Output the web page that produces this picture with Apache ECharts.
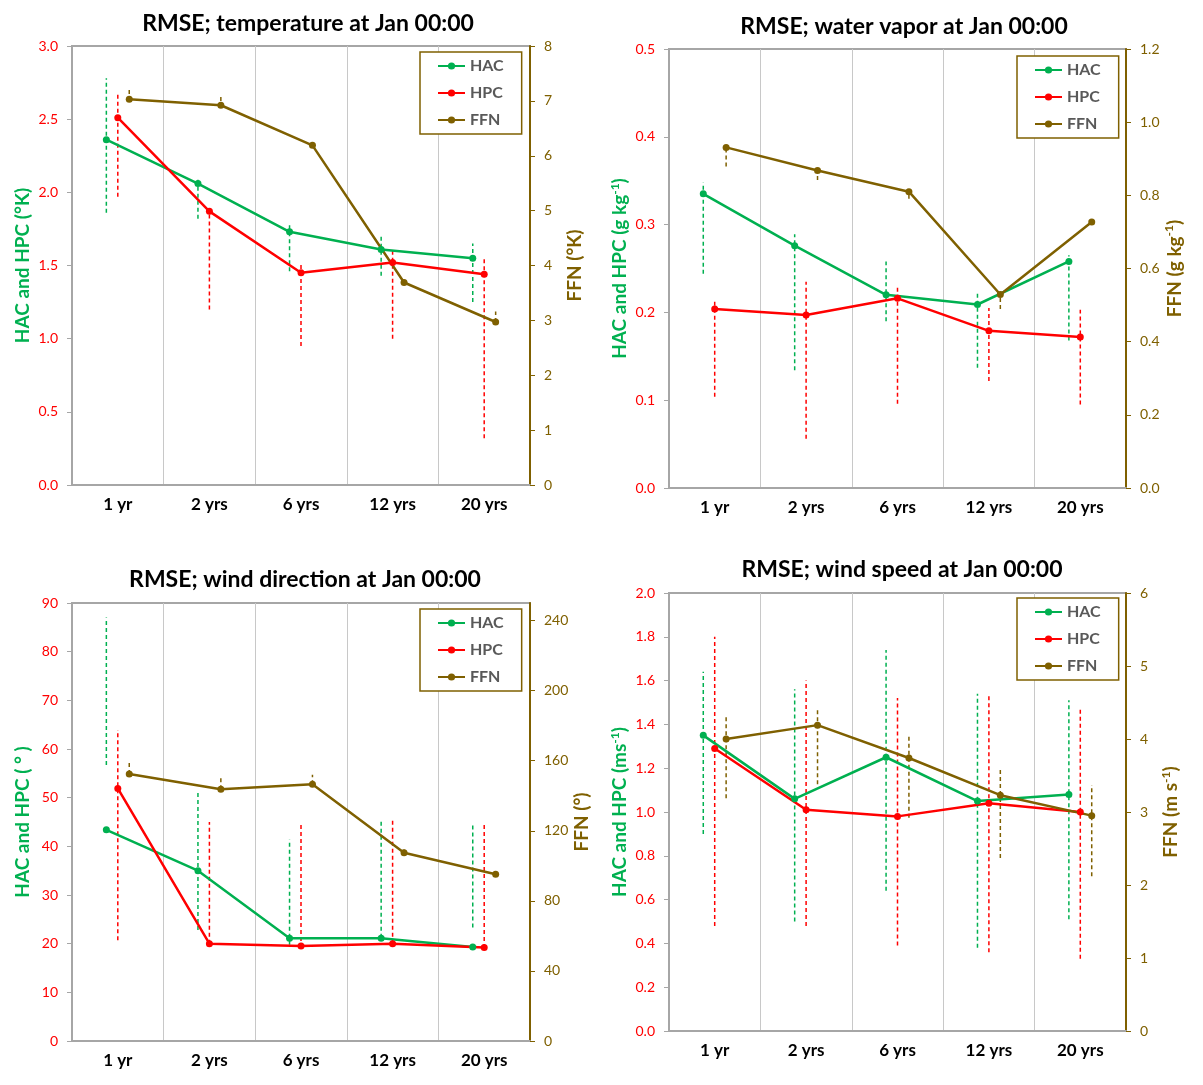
<!DOCTYPE html>
<html><head><meta charset="utf-8">
<script src="https://cdn.jsdelivr.net/npm/echarts@6/dist/echarts.min.js"></script>
<style>html,body{margin:0;padding:0;background:#fff}#c{width:1203px;height:1085px}</style>
</head><body><div id="c"></div>
<script>
// ---------- data ----------
const categories = ['1 yr', '2 yrs', '6 yrs', '12 yrs', '20 yrs'];

// temperature (°K)
const tempHAC    = [2.36, 2.06, 1.73, 1.61, 1.55];
const tempHACLo  = [1.86, 1.82, 1.46, 1.43, 1.25];
const tempHACHi  = [2.78, 2.10, 1.79, 1.71, 1.65];
const tempHPC    = [2.51, 1.87, 1.45, 1.52, 1.44];
const tempHPCLo  = [1.97, 1.20, 0.95, 1.00, 0.32];
const tempHPCHi  = [2.68, 1.88, 1.51, 1.62, 1.56];
const tempFFN    = [7.03, 6.92, 6.19, 3.69, 2.97];
const tempFFNLo  = [7.00, 6.87, 6.14, 3.64, 2.97];
const tempFFNHi  = [7.22, 7.08, 6.26, 3.75, 3.16];

// water vapor (g kg-1)
const vapHAC     = [0.335, 0.276, 0.220, 0.209, 0.258];
const vapHACLo   = [0.244, 0.134, 0.190, 0.137, 0.168];
const vapHACHi   = [0.348, 0.289, 0.258, 0.224, 0.265];
const vapHPC     = [0.204, 0.197, 0.216, 0.179, 0.172];
const vapHPCLo   = [0.104, 0.056, 0.096, 0.122, 0.095];
const vapHPCHi   = [0.214, 0.235, 0.230, 0.205, 0.203];
const vapFFN     = [0.931, 0.868, 0.810, 0.529, 0.727];
const vapFFNLo   = [0.879, 0.842, 0.791, 0.489, 0.727];
const vapFFNHi   = [0.931, 0.872, 0.812, 0.535, 0.727];

// wind direction (°)
const dirHAC     = [43.4, 35.0, 21.1, 21.1, 19.3];
const dirHACLo   = [56.7, 22.8, 19.8, 21.2, 23.3];
const dirHACHi   = [87.0, 51.4, 41.4, 45.3, 44.5];
const dirHPC     = [51.9, 20.0, 19.5, 20.0, 19.2];
const dirHPCLo   = [20.7, 20.0, 19.1, 20.0, 19.1];
const dirHPCHi   = [63.9, 45.0, 44.5, 45.5, 44.7];
const dirFFN     = [152.4, 143.7, 146.5, 107.4, 95.2];
const dirFFNLo   = [152.4, 143.7, 146.5, 107.4, 95.2];
const dirFFNHi   = [159.1, 150.9, 151.9, 109.3, 95.2];

// wind speed (m s-1)
const spdHAC     = [1.35, 1.06, 1.25, 1.05, 1.08];
const spdHACLo   = [0.90, 0.50, 0.64, 0.38, 0.51];
const spdHACHi   = [1.64, 1.56, 1.74, 1.54, 1.51];
const spdHPC     = [1.29, 1.01, 0.98, 1.04, 1.00];
const spdHPCLo   = [0.48, 0.48, 0.39, 0.36, 0.33];
const spdHPCHi   = [1.80, 1.60, 1.52, 1.54, 1.48];
const spdFFN     = [4.00, 4.19, 3.74, 3.23, 2.95];
const spdFFNLo   = [3.19, 3.38, 2.92, 2.37, 2.12];
const spdFFNHi   = [4.33, 4.43, 4.05, 3.61, 3.37];

// ---------- styling / layout ----------
const FONT = 'Lato, "Open Sans", "Noto Sans", sans-serif';
const GREEN = '#00B050', RED = '#FF0000', OLIVE = '#7F6000';
const AXIS_GRAY = '#A6A6A6', GRID_GRAY = '#C8C8C8';
const OFFSET = {HAC: -0.125, HPC: 0, FFN: 0.125};

const panels = [
  {title: 'RMSE; temperature at Jan 00:00', tx: 308, ty: 12,
   grid: {left: 72, top: 46, width: 458, height: 439}, legend: [420, 52],
   lname: '{n|HAC and HPC (°K)}', rname: '{o|FFN (°K)}',
   lmin: 0, lmax: 3, lint: 0.5, ldec: 1, rmin: 0, rmax: 8, rint: 1, rdec: 0, hideMax: false,
   hac: tempHAC, hacLo: tempHACLo, hacHi: tempHACHi,
   hpc: tempHPC, hpcLo: tempHPCLo, hpcHi: tempHPCHi,
   ffn: tempFFN, ffnLo: tempFFNLo, ffnHi: tempFFNHi},
  {title: 'RMSE; water vapor at Jan 00:00', tx: 904, ty: 15,
   grid: {left: 669, top: 49, width: 457, height: 439}, legend: [1017, 56],
   lname: '{n|HAC and HPC (g kg}{ns|-1}{n|)}', rname: '{o|FFN (g kg}{os|-1}{o|)}',
   lmin: 0, lmax: 0.5, lint: 0.1, ldec: 1, rmin: 0, rmax: 1.2, rint: 0.2, rdec: 1, hideMax: false,
   hac: vapHAC, hacLo: vapHACLo, hacHi: vapHACHi,
   hpc: vapHPC, hpcLo: vapHPCLo, hpcHi: vapHPCHi,
   ffn: vapFFN, ffnLo: vapFFNLo, ffnHi: vapFFNHi},
  {title: 'RMSE; wind direction at Jan 00:00', tx: 305, ty: 568,
   grid: {left: 72, top: 603, width: 458, height: 438}, legend: [420, 609],
   lname: '{n|HAC and HPC ( ° )}', rname: '{o|FFN (°)}',
   lmin: 0, lmax: 90, lint: 10, ldec: 0, rmin: 0, rmax: 250, rint: 40, rdec: 0, hideMax: true,
   hac: dirHAC, hacLo: dirHACLo, hacHi: dirHACHi,
   hpc: dirHPC, hpcLo: dirHPCLo, hpcHi: dirHPCHi,
   ffn: dirFFN, ffnLo: dirFFNLo, ffnHi: dirFFNHi},
  {title: 'RMSE; wind speed at Jan 00:00', tx: 902, ty: 558,
   grid: {left: 669, top: 593, width: 457, height: 438}, legend: [1017, 598],
   lname: '{n|HAC and HPC (ms}{ns|-1}{n|)}', rname: '{o|FFN (m s}{os|-1}{o|)}',
   lmin: 0, lmax: 2, lint: 0.2, ldec: 1, rmin: 0, rmax: 6, rint: 1, rdec: 0, hideMax: false,
   hac: spdHAC, hacLo: spdHACLo, hacHi: spdHACHi,
   hpc: spdHPC, hpcLo: spdHPCLo, hpcHi: spdHPCHi,
   ffn: spdFFN, ffnLo: spdFFNLo, ffnHi: spdFFNHi}
];

const nameRich = {
  n:  {color: GREEN, fontSize: 19, fontWeight: 'bold', fontFamily: FONT, lineHeight: 22},
  ns: {color: GREEN, fontSize: 12, fontWeight: 'bold', fontFamily: FONT, verticalAlign: 'top', lineHeight: 22},
  o:  {color: OLIVE, fontSize: 19, fontWeight: 'bold', fontFamily: FONT, lineHeight: 22},
  os: {color: OLIVE, fontSize: 12, fontWeight: 'bold', fontFamily: FONT, verticalAlign: 'top', lineHeight: 22}
};

const option = {
  backgroundColor: '#fff',
  animation: false,
  title: [], grid: [], xAxis: [], yAxis: [], legend: [], series: []
};

function errRender(color) {
  return function (params, api) {
    const x = api.value(0);
    const a = api.coord([x, api.value(1)]);
    const b = api.coord([x, api.value(2)]);
    return {type: 'line', shape: {x1: a[0], y1: a[1], x2: b[0], y2: b[1]},
            style: {stroke: color, lineWidth: 1.5, lineDash: [4, 3]}};
  };
}

panels.forEach((p, k) => {
  option.title.push({text: p.title, left: p.tx, top: p.ty, textAlign: 'center', padding: 0,
    textStyle: {fontFamily: FONT, fontSize: 23, fontWeight: 'bold', color: '#000'}});
  option.grid.push(Object.assign({show: true, borderColor: AXIS_GRAY, borderWidth: 2, backgroundColor: 'transparent'}, p.grid));
  option.xAxis.push({type: 'category', gridIndex: k, data: categories, boundaryGap: true,
    axisLine: {show: true, onZero: false, lineStyle: {color: AXIS_GRAY, width: 2}},
    axisTick: {show: false},
    axisLabel: {color: '#000', fontFamily: FONT, fontSize: 17, fontWeight: 'bold', margin: 11},
    splitLine: {show: true, lineStyle: {color: GRID_GRAY, width: 1}}});
  option.xAxis.push({type: 'value', gridIndex: k, min: -0.5, max: 4.5, show: false});
  option.yAxis.push({type: 'value', gridIndex: k, position: 'left', min: p.lmin, max: p.lmax, interval: p.lint,
    name: p.lname, nameLocation: 'middle', nameGap: 38, nameRotate: 90,
    nameTextStyle: {rich: nameRich},
    axisLine: {show: true, onZero: false, lineStyle: {color: AXIS_GRAY, width: 2}},
    axisTick: {show: true, length: 5, lineStyle: {color: AXIS_GRAY, width: 1}},
    axisLabel: {color: RED, fontFamily: FONT, fontSize: 14, margin: 14,
      formatter: v => v.toFixed(p.ldec)},
    splitLine: {show: false}});
  option.yAxis.push({type: 'value', gridIndex: k, position: 'right', min: p.rmin, max: p.rmax, interval: p.rint,
    name: p.rname, nameLocation: 'middle', nameGap: 34, nameRotate: 90,
    nameTextStyle: {rich: nameRich},
    axisLine: {show: true, onZero: false, lineStyle: {color: OLIVE, width: 2}},
    axisTick: {show: true, length: 5, lineStyle: {color: OLIVE, width: 1}},
    axisLabel: {color: OLIVE, fontFamily: FONT, fontSize: 14, margin: 14, showMaxLabel: !p.hideMax,
      formatter: v => v.toFixed(p.rdec)},
    splitLine: {show: false}});
  option.legend.push({orient: 'vertical', left: p.legend[0], top: p.legend[1],
    data: ['HAC', 'HPC', 'FFN'],
    borderColor: OLIVE, borderWidth: 1.5, backgroundColor: '#fff',
    padding: [6, 18, 6, 17], itemGap: 11, itemWidth: 27, itemHeight: 9,
    textStyle: {color: '#595959', fontFamily: FONT, fontSize: 16, fontWeight: 'bold', lineHeight: 16},
    selectedMode: false});

  const defs = [
    ['HAC', GREEN, p.hac, p.hacLo, p.hacHi, 2 * k],
    ['HPC', RED, p.hpc, p.hpcLo, p.hpcHi, 2 * k],
    ['FFN', OLIVE, p.ffn, p.ffnLo, p.ffnHi, 2 * k + 1]
  ];
  defs.forEach(([name, color, vals, lo, hi, yi]) => {
    option.series.push({type: 'custom', name: name + ' range', xAxisIndex: 2 * k + 1, yAxisIndex: yi,
      renderItem: errRender(color), z: 2, silent: true,
      encode: {x: 0, y: [1, 2]},
      data: lo.map((v, i) => [i + OFFSET[name], v, hi[i]])});
    option.series.push({type: 'line', name: name, xAxisIndex: 2 * k + 1, yAxisIndex: yi,
      data: vals.map((v, i) => [i + OFFSET[name], v]),
      symbol: 'circle', symbolSize: 7, color: color,
      lineStyle: {color: color, width: 2.5}, itemStyle: {color: color}, z: 3});
  });
});

const chart = echarts.init(document.getElementById('c'), null, {renderer: 'canvas'});
chart.setOption(option);
</script>
</body></html>
